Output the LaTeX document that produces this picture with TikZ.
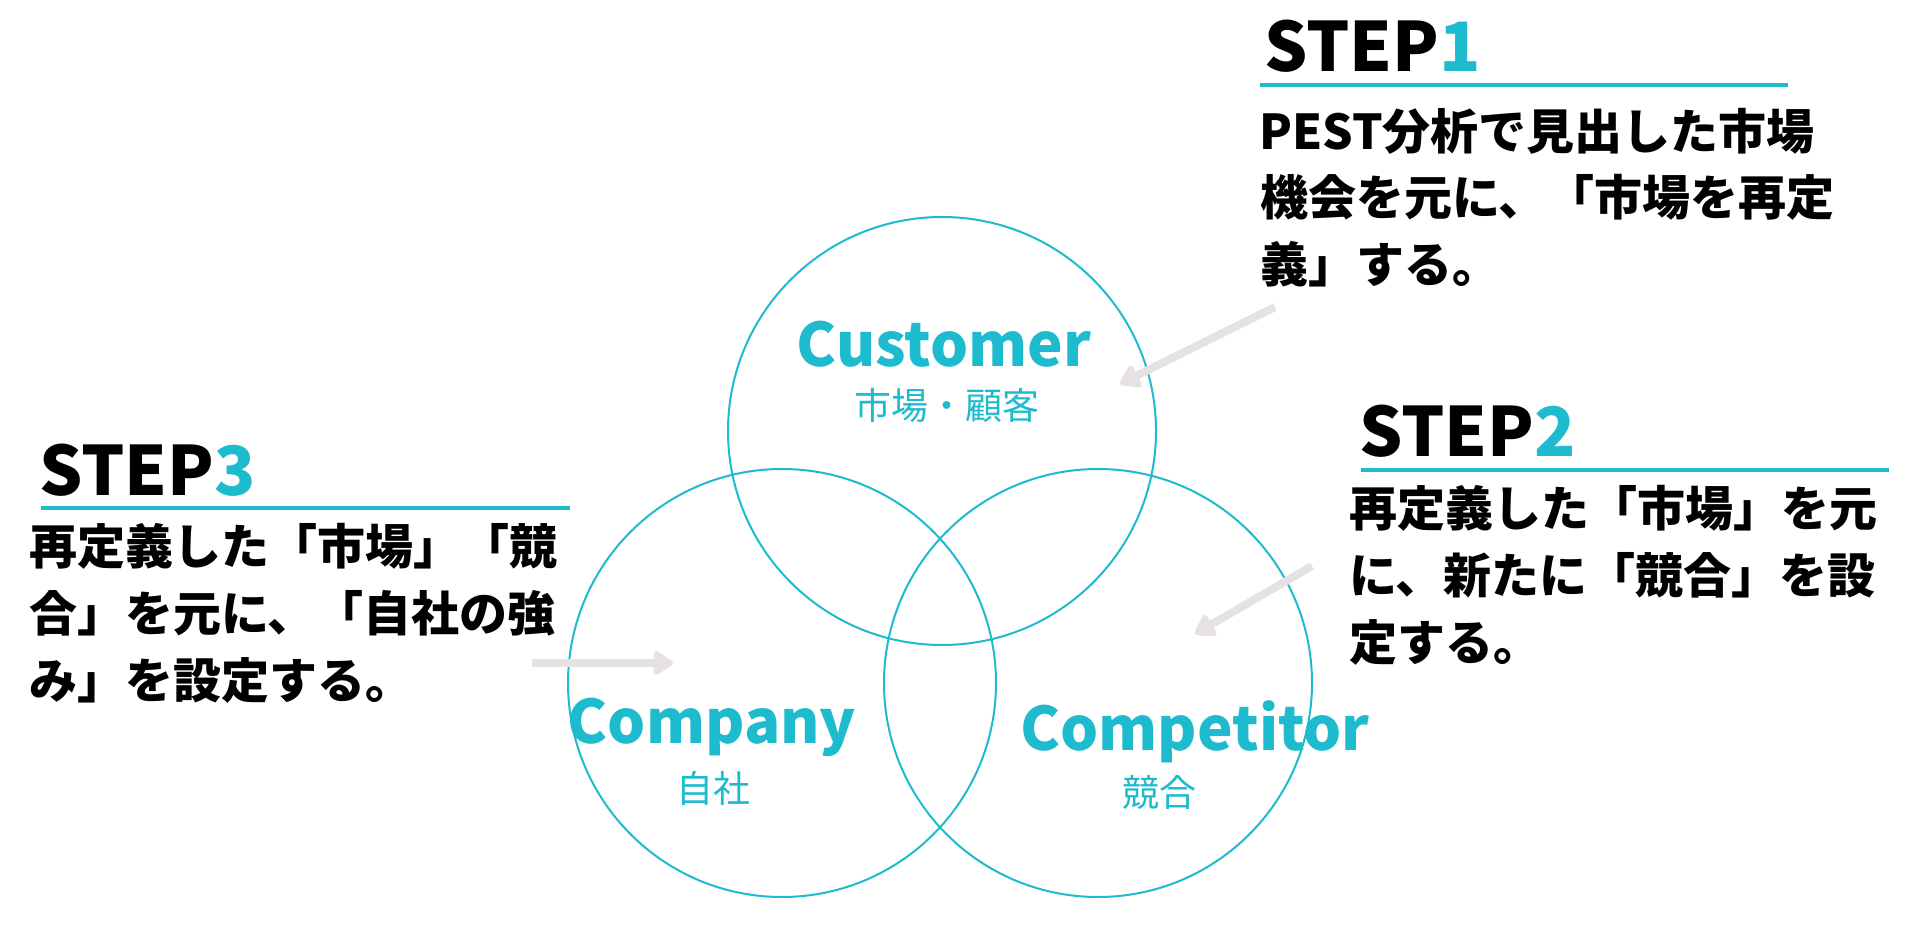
\documentclass[tikz,border=0pt]{standalone}
\usepackage{fontspec}
\setmainfont{Noto Sans CJK JP}
\usetikzlibrary{arrows.meta}
\definecolor{teal1}{HTML}{1EBACD}
\definecolor{arrowgray}{HTML}{E6E2E4}
\begin{document}
\begin{tikzpicture}[x=1pt,y=-1pt,
  ring/.style={draw=teal1,line width=2pt,circle,inner sep=0pt,minimum size=428pt},
  steptitle/.style={anchor=base west,inner sep=0pt,font=\fontsize{68}{68}\selectfont\bfseries},
  body/.style={anchor=base west,inner sep=0pt,font=\fontsize{48}{48}\selectfont\bfseries},
  ctitle/.style={anchor=base,inner sep=0pt,text=teal1,font=\fontsize{60}{60}\selectfont\bfseries},
  csub/.style={anchor=base,inner sep=0pt,text=teal1,font=\fontsize{37}{37}\selectfont},
  steprule/.style={draw=teal1,line width=3.5pt},
  hint/.style={draw=arrowgray,line width=8pt,-{Triangle[length=22pt,width=27pt,round]}},
]
\useasboundingbox (0,0) rectangle (1920,944);

% circles
\node[ring] (cust) at (942,431) {};
\node[ring] (comp) at (782,683) {};
\node[ring] (rival) at (1098,683) {};

% circle labels
\node[ctitle] (custT) at (944,366) {Customer};
\node[csub] (custS) at (947,419) {市場・顧客};
\node[ctitle] (compT) at (712,743) {Company};
\node[csub] (compS) at (713,802) {自社};
\node[ctitle] (rivalT) at (1195,750) {Competitor};
\node[csub] (rivalS) at (1159,806) {競合};

% STEP1
\node[steptitle] (s1) at (1264,72) {STEP{\color{teal1}1}};
\coordinate (r1a) at (1260,85); \coordinate (r1b) at (1788,85);
\draw[steprule] (r1a) -- (r1b);
\node[body] (s1l1) at (1259,150) {PEST分析で見出した市場};
\node[body] (s1l2) at (1260,216) {機会を元に、「市場を再定};
\node[body] (s1l3) at (1260,283) {義」する。};

% STEP2
\node[steptitle] (s2) at (1359,456) {STEP{\color{teal1}2}};
\coordinate (r2a) at (1361,470); \coordinate (r2b) at (1889,470);
\draw[steprule] (r2a) -- (r2b);
\node[body] (s2l1) at (1349,526) {再定義した「市場」を元};
\node[body] (s2l2) at (1349,593) {に、新たに「競合」を設};
\node[body] (s2l3) at (1349,660) {定する。};

% STEP3
\node[steptitle] (s3) at (39,495) {STEP{\color{teal1}3}};
\coordinate (r3a) at (41,508); \coordinate (r3b) at (570,508);
\draw[steprule] (r3a) -- (r3b);
\node[body] (s3l1) at (29,564) {再定義した「市場」「競};
\node[body] (s3l2) at (29,631) {合」を元に、「自社の強};
\node[body] (s3l3) at (29,698) {み」を設定する。};

% arrows
\coordinate (a1s) at (1275,307); \coordinate (a1e) at (1120,384);
\coordinate (a2s) at (1312,566); \coordinate (a2e) at (1195,634);
\coordinate (a3s) at (532,663); \coordinate (a3e) at (673,663);
\draw[hint] (a1s) -- (a1e);
\draw[hint] (a2s) -- (a2e);
\draw[hint] (a3s) -- (a3e);
\end{tikzpicture}
\end{document}
